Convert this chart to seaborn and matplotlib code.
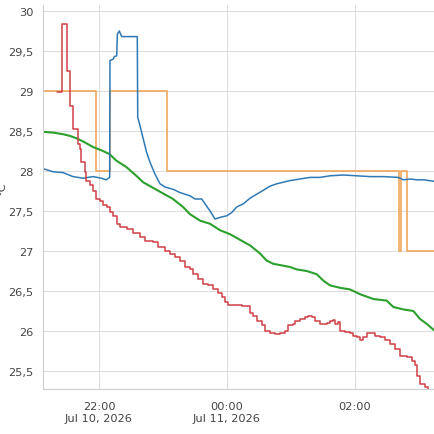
import pandas as pd
import seaborn as sns
import matplotlib.pyplot as plt

# minutes after 21:00 on Jul 10, 2026 and temperatures in degC
red_min = [20.6, 25.3, 30.0, 32.8, 35.6, 40.0, 41.9, 43.4, 46.6, 48.1, 51.3, 54.4, 57.5,
           60.9, 63.8, 67.2, 70.3, 73.4, 76.6, 79.7, 86.0, 92.2, 98.4, 103.1, 110.9,
           115.6, 121.9, 126.6, 131.3, 136.0, 140.6, 145.3, 148.4, 153.1, 157.8, 162.5,
           167.2, 171.8, 175.0, 178.1, 181.2, 193.8, 201.6, 204.7, 207.8, 212.5, 215.6,
           220.3, 225.0, 229.7, 234.4, 237.5, 242.2, 243.8, 248.4, 253.1, 256.2, 259.4,
           262.5, 267.2, 273.5, 276.6, 279.7, 281.3, 284.3, 286.0, 290.6, 295.3, 298.4,
           301.6, 304.7, 307.8, 311.0, 314.1, 318.8, 323.4, 328.1, 332.8, 337.5, 342.2,
           348.5, 353.2, 356.3, 358.4, 361.0, 365.6, 368.4]
red_val = [28.99, 29.84, 29.25, 28.81, 28.53, 28.34, 28.28, 28.11, 27.99, 27.88, 27.82,
           27.75, 27.65, 27.62, 27.57, 27.55, 27.49, 27.44, 27.34, 27.30, 27.27, 27.23,
           27.17, 27.13, 27.11, 27.05, 27.00, 26.96, 26.92, 26.88, 26.80, 26.78, 26.71,
           26.65, 26.59, 26.57, 26.53, 26.48, 26.42, 26.36, 26.32, 26.31, 26.23, 26.19,
           26.13, 26.07, 26.00, 25.97, 25.96, 25.98, 26.00, 26.07, 26.09, 26.13, 26.15,
           26.18, 26.19, 26.17, 26.13, 26.09, 26.10, 26.13, 26.14, 26.09, 26.11, 26.00,
           25.99, 25.98, 25.94, 25.92, 25.89, 25.92, 25.98, 25.97, 25.94, 25.92, 25.89,
           25.84, 25.78, 25.69, 25.67, 25.63, 25.57, 25.44, 25.34, 25.30, 25.21]

blue_min = [7.5, 16.9, 26.3, 35.6, 45.0, 54.4, 62.2, 66.8, 70.0, 70.3, 71.9, 73.4, 74.3,
            76.6, 77.2, 79.0, 80.3, 81.3, 95.9, 96.3, 98.4, 101.5, 104.7, 107.8, 112.5,
            117.2, 121.9, 129.7, 136.0, 145.3, 150.0, 156.3, 159.4, 164.1, 168.8, 173.4,
            179.7, 184.4, 189.1, 195.3, 201.6, 207.8, 214.1, 220.3, 226.6, 232.8, 239.1,
            248.4, 257.8, 267.2, 276.6, 289.1, 301.6, 314.1, 326.6, 340.6, 345.3, 351.6,
            357.9, 364.1, 375.0]
blue_val = [28.03, 27.99, 27.98, 27.93, 27.91, 27.93, 27.91, 27.89, 27.92, 29.38, 29.39,
            29.40, 29.43, 29.44, 29.71, 29.75, 29.71, 29.68, 29.68, 28.67, 28.57, 28.40,
            28.23, 28.11, 27.96, 27.84, 27.80, 27.77, 27.73, 27.69, 27.65, 27.65, 27.59,
            27.50, 27.40, 27.42, 27.44, 27.48, 27.55, 27.59, 27.66, 27.71, 27.76, 27.81,
            27.84, 27.86, 27.88, 27.90, 27.92, 27.92, 27.94, 27.95, 27.94, 27.93, 27.93,
            27.92, 27.89, 27.90, 27.89, 27.89, 27.87]

orange_min = [0.0, 57.2, 70.3, 123.75, 341.25, 343.1, 348.75, 380.0]
orange_val = [29.0, 28.0, 29.0, 28.0, 27.0, 28.0, 27.0, 27.0]

green_min = [7.5, 16.9, 26.3, 32.5, 38.7, 45.0, 54.4, 63.8, 70.0, 76.2, 85.6, 95.0, 101.3,
             110.6, 120.0, 129.4, 138.8, 145.3, 154.7, 164.1, 173.4, 182.8, 192.2, 201.6,
             210.9, 217.2, 223.4, 231.3, 239.1, 245.3, 254.7, 264.1, 270.3, 276.6, 286.0,
             295.3, 304.7, 317.2, 329.7, 335.9, 345.3, 354.7, 361.0, 367.2, 375.0]
green_val = [28.49, 28.48, 28.46, 28.44, 28.41, 28.37, 28.30, 28.25, 28.21, 28.13, 28.05,
             27.94, 27.86, 27.79, 27.72, 27.65, 27.55, 27.46, 27.38, 27.34, 27.26, 27.21,
             27.14, 27.07, 26.97, 26.88, 26.84, 26.82, 26.80, 26.77, 26.75, 26.71, 26.63,
             26.57, 26.54, 26.52, 26.46, 26.40, 26.38, 26.30, 26.27, 26.25, 26.15, 26.09,
             26.00]

y_ticks = [25.5, 26, 26.5, 27, 27.5, 28, 28.5, 29, 29.5, 30]
x_tick_labels = ["22:00\nJul 10, 2026", "00:00\nJul 11, 2026", "02:00"]

base = pd.Timestamp("2026-07-10 21:00")


def to_df(mins, vals):
    return pd.DataFrame({"time": base + pd.to_timedelta(mins, unit="min"), "temp": vals})


sns.set_style("whitegrid", {"grid.color": "#dedede", "axes.edgecolor": "#cfcfcf"})
plt.rcParams["font.family"] = ["DejaVu Sans"]

fig = plt.figure(figsize=(4.35, 4.35), dpi=100)
ax = fig.add_axes([43 / 435, 1 - 390 / 435, 1 - 43 / 435, 384 / 435])

kw = dict(x="time", y="temp", estimator=None, lw=1.1, ax=ax)
sns.lineplot(data=to_df(orange_min, orange_val), color="#f0a050", drawstyle="steps-post", **kw)
sns.lineplot(data=to_df(green_min, green_val), color="#2ca02c", **{**kw, "lw": 1.5})
sns.lineplot(data=to_df(blue_min, blue_val), color="#2f7ab6", **kw)
sns.lineplot(data=to_df(red_min, red_val), color="#cf3f47", drawstyle="steps-post", **kw)

ax.set_xlim(base + pd.Timedelta(minutes=7.5), base + pd.Timedelta(minutes=375))
ax.set_ylim(25.275, 30.075)
ax.set_xticks([pd.Timestamp("2026-07-10 22:00"), pd.Timestamp("2026-07-11 00:00"),
               pd.Timestamp("2026-07-11 02:00")])
ax.set_xticklabels(x_tick_labels, linespacing=1.25)
ax.set_yticks(y_ticks)
ax.set_yticklabels([f"{v:g}".replace(".", ",") for v in y_ticks])
ax.tick_params(axis="both", labelsize=8.2, labelcolor="#444444", colors="#cfcfcf",
               length=5, width=0.8, pad=2)
ax.tick_params(axis="x", pad=4)
ax.tick_params(axis="both", labelcolor="#444444")
ax.set_xlabel("")
ax.set_ylabel("")
for s in ["top", "right"]:
    ax.spines[s].set_visible(False)
ax.grid(lw=0.8)
fig.text(0.004, 1 - 188 / 435, "°C", rotation=90, ha="center", va="center",
         fontsize=8.2, color="#444444")

fig.savefig("out.png", dpi=100)
